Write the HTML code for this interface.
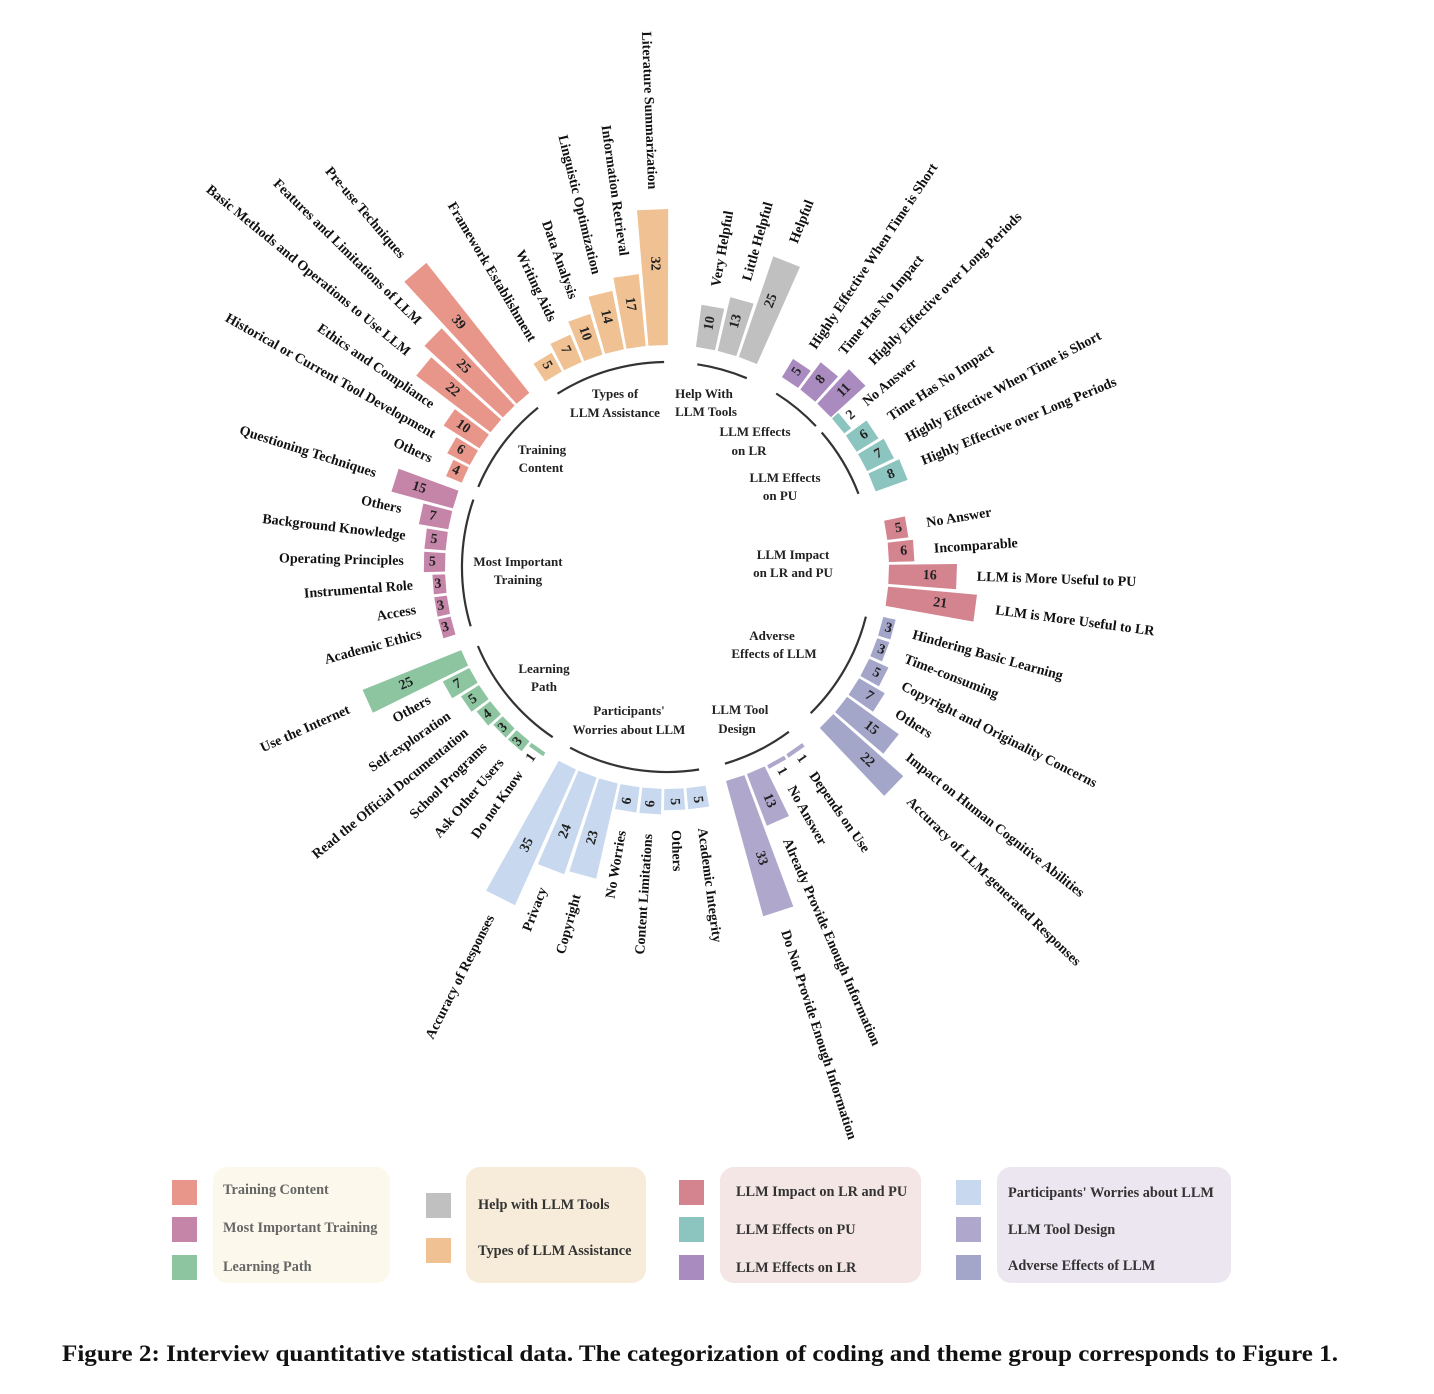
<!DOCTYPE html>
<html><head><meta charset="utf-8">
<style>
html,body{margin:0;padding:0;background:#fff;}
body{width:1434px;height:1394px;overflow:hidden;position:relative;font-family:"Liberation Serif",serif;}
svg{position:absolute;left:0;top:0;}
</style></head>
<body>
<svg id="s" width="1434" height="1394" viewBox="0 0 1434 1394" xmlns="http://www.w3.org/2000/svg" font-family="Liberation Serif, serif" font-weight="bold">
<g font-size="13" fill="#222" text-anchor="middle">
<text x="615" y="398">Types of</text><text x="615" y="417">LLM Assistance</text>
<text x="704" y="398">Help With</text><text x="706" y="416">LLM Tools</text>
<text x="755" y="436">LLM Effects</text><text x="749" y="455">on LR</text>
<text x="785" y="482">LLM Effects</text><text x="780" y="500">on PU</text>
<text x="793" y="559">LLM Impact</text><text x="793" y="577">on LR and PU</text>
<text x="772" y="640">Adverse</text><text x="774" y="658">Effects of LLM</text>
<text x="740" y="714">LLM Tool</text><text x="737" y="733">Design</text>
<text x="629" y="715">Participants'</text><text x="629" y="734">Worries about LLM</text>
<text x="544" y="673">Learning</text><text x="544" y="691">Path</text>
<text x="518" y="566">Most Important</text><text x="518" y="584">Training</text>
<text x="542" y="454">Training</text><text x="541" y="472">Content</text>
</g>
<g id="chart"></g>
<rect x="213" y="1167" width="177" height="116" rx="14" fill="#fcf9ec"/>
<rect x="466" y="1167" width="180" height="116" rx="14" fill="#f7ecd9"/>
<rect x="720" y="1167" width="201" height="116" rx="14" fill="#f3e6e4"/>
<rect x="997" y="1167" width="234" height="116" rx="14" fill="#ece6f0"/>
<rect x="172" y="1180" width="25" height="25" fill="#e8968a"/>
<rect x="172" y="1217" width="25" height="25" fill="#c585a8"/>
<rect x="172" y="1255" width="25" height="25" fill="#8cc5a0"/>
<rect x="426" y="1193" width="25" height="25" fill="#c0c0c0"/>
<rect x="426" y="1238" width="25" height="25" fill="#f0c193"/>
<rect x="679" y="1180" width="25" height="25" fill="#d4848f"/>
<rect x="679" y="1217" width="25" height="25" fill="#8cc4c0"/>
<rect x="679" y="1255" width="25" height="25" fill="#a98bbf"/>
<rect x="956" y="1180" width="25" height="25" fill="#c8d9ef"/>
<rect x="956" y="1217" width="25" height="25" fill="#b0a8cc"/>
<rect x="956" y="1255" width="25" height="25" fill="#a3a6c9"/>
<g font-size="14.3">
<text x="223" y="1194" fill="#666">Training Content</text>
<text x="223" y="1232" fill="#666">Most Important Training</text>
<text x="223" y="1271" fill="#666">Learning Path</text>
<text x="478" y="1209" fill="#333">Help with LLM Tools</text>
<text x="478" y="1255" fill="#333">Types of LLM Assistance</text>
<text x="736" y="1196" fill="#333">LLM Impact on LR and PU</text>
<text x="736" y="1234" fill="#333">LLM Effects on PU</text>
<text x="736" y="1272" fill="#333">LLM Effects on LR</text>
<text x="1008" y="1197" fill="#333">Participants' Worries about LLM</text>
<text x="1008" y="1234" fill="#333">LLM Tool Design</text>
<text x="1008" y="1270" fill="#333">Adverse Effects of LLM</text>
</g>
<text x="62" y="1361" font-size="23" fill="#111" textLength="1276" lengthAdjust="spacingAndGlyphs">Figure 2: Interview quantitative statistical data. The categorization of coding and theme group corresponds to Figure 1.</text>
</svg>
<script>
(function(){
var cx=667,cy=567,r0=222,k=4.25,ar=205;
var G=[
["#e8968a",-155.5,5,[[4,"Others"],[6,"Historical or Current Tool Development"],[10,"Ethics and Compliance"],[22,"Basic Methods and Operations to Use LLM"],[25,"Features and Limitations of LLM"],[39,"Pre-use Techniques"]]],
["#f0c193",-120.8,5.7,[[5,"Framework Establishment"],[7,"Writing Aids"],[10,"Data Analysis"],[14,"Linguistic Optimization"],[17,"Information Retrieval"],[32,"Literature Summarization"]]],
["#c0c0c0",-80,5.7,[[10,"Very Helpful"],[13,"Little Helpful"],[25,"Helpful"]]],
["#a98bbf",-56.3,5.7,[[5,"Highly Effective When Time is Short"],[8,"Time Has No Impact"],[11,"Highly Effective over Long Periods"]]],
["#8cc4c0",-39.5,5.7,[[2,"No Answer"],[6,"Time Has No Impact"],[7,"Highly Effective When Time is Short"],[8,"Highly Effective over Long Periods"]]],
["#d4848f",-9.5,5.7,[[5,"No Answer"],[6,"Incomparable"],[16,"LLM is More Useful to PU"],[21,"LLM is More Useful to LR"]],1],
["#a3a6c9",15.5,5.7,[[3,"Hindering Basic Learning"],[3,"Time-consuming"],[5,"Copyright and Originality Concerns"],[7,"Others"],[15,"Impact on Human Cognitive Abilities"],[22,"Accuracy of LLM-generated Responses"]]],
["#b0a8cc",55,5.7,[[1,"Depends on Use"],[1,"No Answer"],[13,"Already Provide Enough Information"],[33,"Do Not Provide Enough Information"]]],
["#c8d9ef",82.5,5.7,[[5,"Academic Integrity"],[5,"Others"],[6,"Content Limitations"],[6,"No Worries"],[23,"Copyright"],[24,"Privacy"],[35,"Accuracy of Responses"]]],
["#8cc5a0",125.4,5.07,[[1,"Do not Know"],[3,"Ask Other Users"],[3,"School Programs"],[4,"Read the Official Documentation"],[5,"Self-exploration"],[7,"Others"],[25,"Use the Internet"]]],
["#c585a8",164.7,5.5,[[3,"Academic Ethics"],[3,"Access"],[3,"Instrumental Role"],[5,"Operating Principles"],[5,"Background Knowledge"],[7,"Others"],[15,"Questioning Techniques"]]]
];
function P(r,a){var t=a*Math.PI/180;return [cx+r*Math.cos(t),cy+r*Math.sin(t)];}
var h="";
G.forEach(function(g){
 var col=g[0],a0=g[1],st=g[2],it=g[3],hw=(st-0.7)/2;
 var aEnd=a0+st*(it.length-1);
 if(!g[4]){
  var s=P(ar,a0-1.5),e=P(ar,aEnd+1.5);
  h+='<path d="M'+s[0].toFixed(1)+' '+s[1].toFixed(1)+' A'+ar+' '+ar+' 0 0 1 '+e[0].toFixed(1)+' '+e[1].toFixed(1)+'" fill="none" stroke="#333" stroke-width="2.2"/>';
 }
 it.forEach(function(d,i){
  var a=a0+st*i,L=d[0]*k,r1=r0+L;
  var p1=P(r0,a-hw),p2=P(r1,a-hw),p3=P(r1,a+hw),p4=P(r0,a+hw);
  h+='<polygon points="'+[p1,p2,p3,p4].map(function(p){return p[0].toFixed(1)+','+p[1].toFixed(1)}).join(' ')+'" fill="'+col+'"/>';
  var left=(a>90||a<-90);
  var rot=left?a+180:a;
  var nr=L<12?r1+8:r0+Math.max(0.6*L,L/2);
  var np=P(nr,a);
  h+='<text transform="translate('+np[0].toFixed(1)+','+np[1].toFixed(1)+') rotate('+rot.toFixed(1)+')" text-anchor="middle" dominant-baseline="central" font-size="14" fill="#222">'+d[0]+'</text>';
  var lr=r1+(L<12?26:20);
  var lp=P(lr,a);
  h+='<text transform="translate('+lp[0].toFixed(1)+','+lp[1].toFixed(1)+') rotate('+rot.toFixed(1)+')" text-anchor="'+(left?'end':'start')+'" dominant-baseline="central" font-size="14" fill="#111">'+d[1]+'</text>';
 });
});
document.getElementById("chart").innerHTML=h;
})();
</script>
</body></html>
